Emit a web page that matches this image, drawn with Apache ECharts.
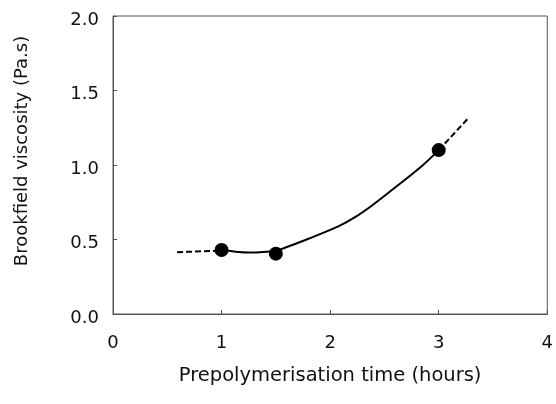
<!DOCTYPE html>
<html>
<head>
<meta charset="utf-8">
<script src="https://cdn.jsdelivr.net/npm/echarts@6/dist/echarts.min.js"></script>
<style>
  html, body { margin: 0; padding: 0; background: #fff; }
  #chart { width: 556px; height: 404px; }
</style>
</head>
<body>
<div id="chart"></div>
<script>
// Measured viscosity at each prepolymerisation time
const pointTimes = [1, 1.5, 3];
const pointViscosity = [0.43, 0.405, 1.10];

// Trend curve through the measurements (solid part)
const curveTimes = [1, 1.25, 1.5, 1.62, 1.8, 2.08, 2.23, 2.38, 2.54, 2.84, 3];
const curveViscosity = [0.43, 0.413, 0.425, 0.455, 0.505, 0.59, 0.65, 0.725, 0.815, 0.99, 1.10];

// Extrapolated ends of the trend (dashed)
const lowTimes = [0.59, 1];
const lowViscosity = [0.415, 0.425];
const highTimes = [3, 3.28];
const highViscosity = [1.10, 1.32];

const zip = (xs, ys) => xs.map((x, i) => [x, ys[i]]);

const font = 'DejaVu Sans';
const chart = echarts.init(document.getElementById('chart'), null, { renderer: 'canvas' });

chart.setOption({
  animation: false,
  backgroundColor: '#fff',
  grid: {
    left: 113, right: 6, top: 16, bottom: 90,
    show: true, borderColor: '#555', borderWidth: 1
  },
  xAxis: {
    type: 'value', min: 0, max: 4, interval: 1,
    name: 'Prepolymerisation time (hours)',
    nameLocation: 'middle', nameGap: 52,
    nameTextStyle: { fontFamily: font, fontSize: 19.5, color: '#111' },
    axisLine: { show: true, lineStyle: { color: '#555', width: 1 } },
    axisTick: { show: true, inside: true, length: 4, lineStyle: { color: '#555' } },
    axisLabel: { fontFamily: font, fontSize: 18, color: '#111', margin: 20 },
    splitLine: { show: false }
  },
  yAxis: {
    type: 'value', min: 0, max: 2, interval: 0.5,
    name: 'Brookfield viscosity (Pa.s)',
    nameLocation: 'middle', nameGap: 82,
    nameTextStyle: { fontFamily: font, fontSize: 18, color: '#111', padding: [0, 0, 0, 28] },
    axisLine: { show: true, lineStyle: { color: '#555', width: 1 } },
    axisTick: { show: true, inside: true, length: 4, lineStyle: { color: '#555' } },
    axisLabel: {
      fontFamily: font, fontSize: 18, color: '#111', margin: 14,
      verticalAlign: 'top', lineHeight: 8,
      formatter: v => v.toFixed(1)
    },
    splitLine: { show: false }
  },
  series: [
    {
      type: 'line', data: zip(curveTimes, curveViscosity), smooth: 0.3,
      showSymbol: false, lineStyle: { color: '#000', width: 2 }, z: 2
    },
    {
      type: 'line', data: zip(lowTimes, lowViscosity),
      showSymbol: false, lineStyle: { color: '#000', width: 2, type: [6, 3] }, z: 2
    },
    {
      type: 'line', data: zip(highTimes, highViscosity),
      showSymbol: false, lineStyle: { color: '#000', width: 2, type: [6, 3] }, z: 2
    },
    {
      type: 'scatter', data: zip(pointTimes, pointViscosity),
      symbol: 'circle', symbolSize: 14,
      itemStyle: { color: '#000', opacity: 1 }, z: 3
    }
  ]
});
</script>
</body>
</html>
